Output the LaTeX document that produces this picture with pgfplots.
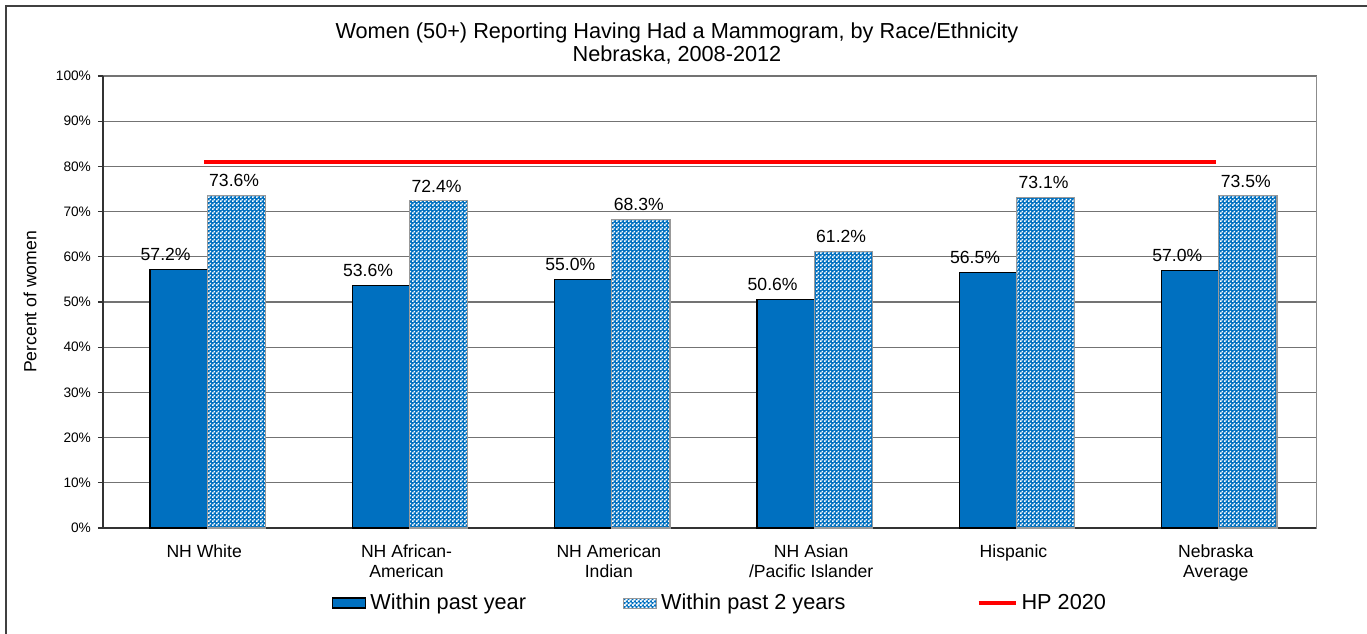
\documentclass[border=0pt]{standalone}
\usepackage{fontspec}
\setmainfont{Liberation Sans}
\usepackage{pgfplots}
\pgfplotsset{compat=1.18}
\usetikzlibrary{patterns}

\definecolor{barblue}{RGB}{0,112,192}

% fine blue/white check, about the size of the one in the original
\pgfdeclarepatternformonly{finecheck}{\pgfqpoint{0pt}{0pt}}{\pgfqpoint{2pt}{2pt}}{\pgfqpoint{2pt}{2pt}}{%
  \pgfpathrectangle{\pgfqpoint{0pt}{0pt}}{\pgfqpoint{1pt}{1pt}}%
  \pgfpathrectangle{\pgfqpoint{1pt}{1pt}}{\pgfqpoint{1pt}{1pt}}%
  \pgfusepath{fill}}

\pgfplotstableread{
x  year  twoyear
0  57.2  73.6
1  53.6  72.4
2  55.0  68.3
3  50.6  61.2
4  56.5  73.1
5  57.0  73.5
}\mammo

\begin{document}
\begin{tikzpicture}
\useasboundingbox (-51.5pt,-52.5pt) rectangle (632pt,264pt);
% chart frame (cut at right and bottom, as in the original)
\draw[black!75, line width=1pt] (-48.5pt,-53pt) -- (-48.5pt,261pt) -- (633pt,261pt);

\node[align=center, font=\fontsize{10.85}{11.5}\selectfont] at (287pt,242pt)
  {Women (50+) Reporting Having Had a Mammogram, by Race/Ethnicity\\Nebraska, 2008-2012};

\begin{axis}[
  at={(0pt,0pt)}, anchor=south west,
  scale only axis,
  width=607pt, height=226pt,
  xmin=-0.5, xmax=5.5,
  ymin=0, ymax=100,
  ytick={0,10,...,100},
  yticklabel={\pgfmathprintnumber{\tick}\%},
  /pgf/number format/assume math mode=true,
  axis x line*=bottom, axis y line*=left,
  axis line style={black!80, line width=0.7pt},
  ymajorgrids,
  grid style={black!55, line width=0.6pt},
  tick align=outside,
  major tick length=2.5pt,
  minor tick length=2.5pt,
  tick style={black!80, line width=0.6pt},
  xtick={0,...,5},
  xtick style={draw=none},
  minor xtick={-0.5,0.5,...,5.5},
  minor tick style={black!80, line width=0.6pt, draw=black!80},
  xticklabels={NH White, {NH African-\\American}, {NH American\\Indian},
    {NH Asian\\/Pacific Islander}, Hispanic, {Nebraska\\Average}},
  xticklabel style={align=center, font=\fontsize{8.8}{10}\selectfont, yshift=-2.5pt},
  yticklabel style={font=\fontsize{6.85}{8}\selectfont},
  ylabel={Percent of women},
  every axis y label/.style={at={(axis description cs:0,0.5)}, rotate=90, anchor=center,
    yshift=36.5pt, font=\fontsize{8.8}{10}\selectfont},
  legend columns=3,
  legend style={at={(0.509,-37.5pt)}, anchor=center, draw=none, fill=none,
    font=\fontsize{10.85}{12}\selectfont,
    /tikz/every even column/.append style={column sep=0pt}},
  legend cell align=left,
  nodes near coords={\pgfmathprintnumber[fixed, fixed zerofill, precision=1]{\pgfplotspointmeta}\%},
  every node near coord/.append style={font=\fontsize{8.8}{10}\selectfont,
    inner sep=1pt, yshift=3pt},
]
\addplot[ybar, bar width=0.283, bar shift=-0.1265, fill=barblue, draw=black, line width=0.6pt,
  every node near coord/.append style={xshift=-19.25pt},
  legend image code/.code={\draw[fill=barblue, draw=black, line width=0.8pt] (0pt,-2.5pt) rectangle (16.5pt,2.5pt);}]
  table[x=x, y=year] {\mammo};
\addlegendentry{Within past year\rule{46.5pt}{0pt}}
\addplot[ybar, bar width=0.287, bar shift=0.1585, fill=barblue, draw=black!40, line width=0.6pt,
  postaction={pattern=finecheck, pattern color=white},
  every node near coord/.append style={xshift=15pt},
  legend image code/.code={\draw[fill=barblue, draw=black!40, line width=0.5pt,
    postaction={pattern=finecheck, pattern color=white}] (0pt,-2.5pt) rectangle (16.5pt,2.5pt);}]
  table[x=x, y=twoyear] {\mammo};
\addlegendentry{Within past 2 years\rule{63.5pt}{0pt}}
\addplot[sharp plot, red, line width=2pt, mark=none, nodes near coords={},
  legend image code/.code={\draw[red, line width=2pt] (0pt,0pt) -- (18.5pt,0pt);}]
  coordinates {(0,81) (5,81)};
\addlegendentry{HP 2020}
\draw[black!45, line width=0.8pt] (rel axis cs:1,1) -- (rel axis cs:1,0) -- ++(0pt,-2.5pt);
\end{axis}
\end{tikzpicture}
\end{document}
